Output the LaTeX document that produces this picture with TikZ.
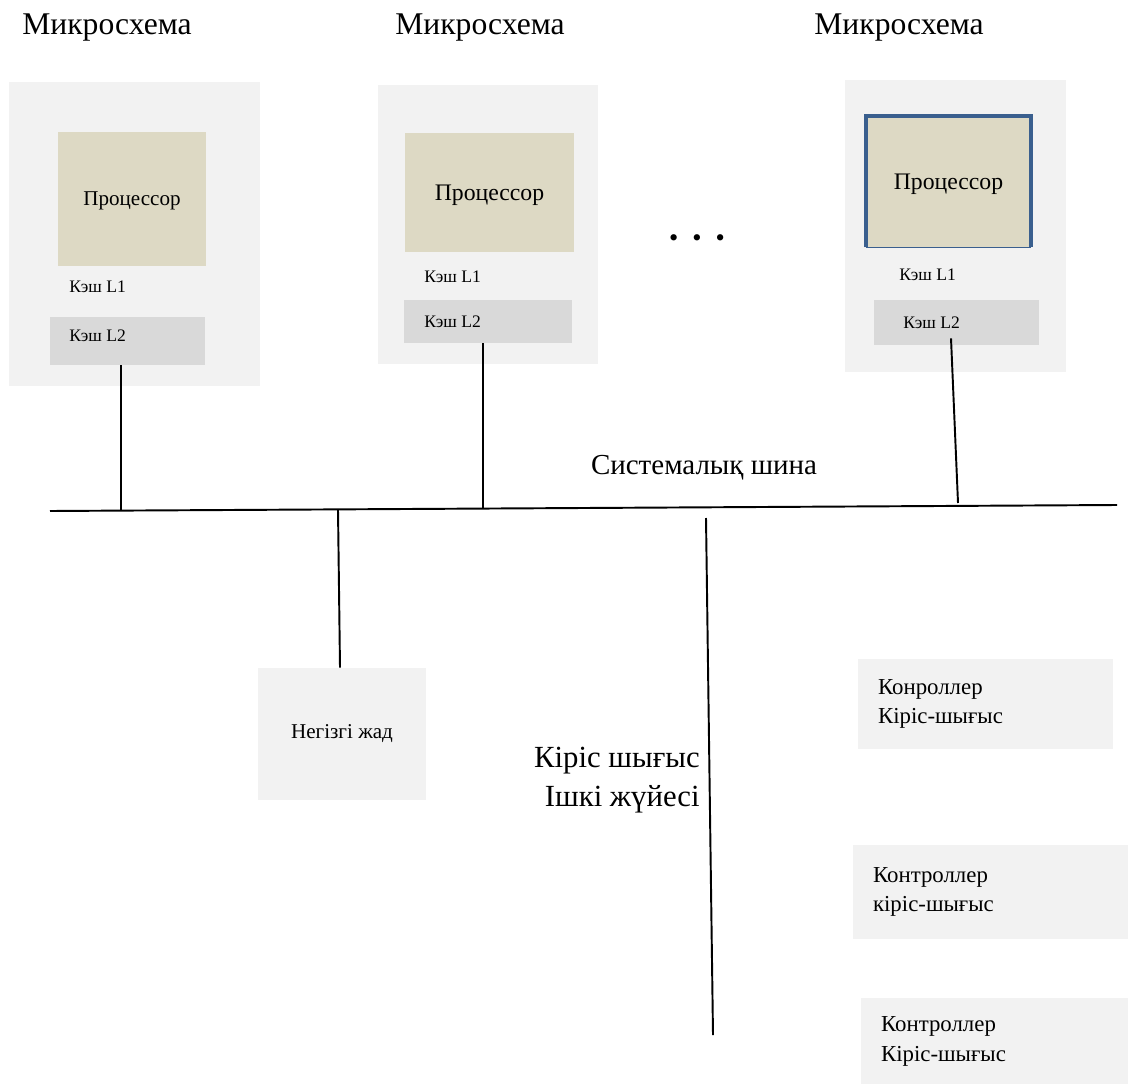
\documentclass[tikz,border=0pt]{standalone}
\usepackage{fontspec}
\setmainfont{Liberation Serif}
\usetikzlibrary{positioning}
\definecolor{chipgray}{HTML}{F2F2F2}
\definecolor{procbeige}{HTML}{DDD9C4}
\definecolor{cachegray}{HTML}{D9D9D9}
\definecolor{procblue}{HTML}{3A5F8E}

\begin{document}
\begin{tikzpicture}
  [x=0.02cm, y=-0.02cm,
   box/.style={rectangle, inner sep=0pt},
   chip/.style={box, fill=chipgray},
   proc/.style={box, fill=procbeige, text depth=0pt, font=\fontsize{13.5}{15}\selectfont},
   cache/.style={box, fill=cachegray},
   cachetext/.style={inner sep=0pt, anchor=west, font=\fontsize{10}{12}\selectfont},
   ctrl/.style={box, fill=chipgray, align=left, inner xsep=0.4cm, font=\fontsize{13}{17}\selectfont},
   heading/.style={inner sep=0pt, font=\fontsize{18}{20}\selectfont},
   bus/.style={line width=1.1pt}]
  \useasboundingbox (0,0) rectangle (1128,1084);

  % chips
  \node (head1) at (107,28) [heading] {Микросхема};
  \node (head2) at (480,28) [heading] {Микросхема};
  \node (head3) at (899,28) [heading] {Микросхема};

  \node (chip1) at (134.5,234) [chip, minimum width=5.02cm, minimum height=6.08cm] {};
  \node (proc1) at (132,199) [proc, minimum width=2.96cm, minimum height=2.68cm, font=\fontsize{12}{14}\selectfont] {Процессор};
  \node (l1a) at (69,287) [cachetext] {Кэш L1};
  \node (l2a) at (127.5,341) [cache, minimum width=3.1cm, minimum height=0.96cm] {};
  \node (l2atext) at (69,336) [cachetext] {Кэш L2};

  \node (chip2) at (488,224.5) [chip, minimum width=4.4cm, minimum height=5.58cm] {};
  \node (proc2) at (489.5,192.5) [proc, minimum width=3.38cm, minimum height=2.38cm] {Процессор};
  \node (l1b) at (424,277) [cachetext] {Кэш L1};
  \node (l2b) at (488,321.5) [cache, minimum width=3.36cm, minimum height=0.86cm] {};
  \node (l2btext) at (424,322) [cachetext] {Кэш L2};

  \node (chip3) at (955.5,226) [chip, minimum width=4.42cm, minimum height=5.84cm] {};
  \node (proc3) at (948.5,181.5) [proc, minimum width=3.3cm, minimum height=2.62cm] {Процессор};
  \draw [procblue, line width=2.3pt] (proc3.south west) -- (proc3.north west) -- (proc3.north east) -- (proc3.south east);
  \draw [procblue, line width=0.6pt] (proc3.south west) -- (proc3.south east);
  \node (l1c) at (899,275) [cachetext] {Кэш L1};
  \node (l2c) at (956.5,322.5) [cache, minimum width=3.3cm, minimum height=0.9cm] {};
  \node (l2ctext) at (903,323) [cachetext] {Кэш L2};

  \node (more) at (697,241) [inner sep=0pt, font=\fontsize{15}{15}\selectfont] {•\hspace{8pt}•\hspace{8pt}•};

  % bus
  \coordinate (busl) at (50,511);
  \coordinate (busr) at (1117,505);
  \coordinate (t1) at (121,511);
  \coordinate (t2) at (483,508);
  \coordinate (t3) at (958,503);
  \coordinate (t4) at (338,510);
  \draw [bus] (busl) -- (busr);
  \node (busname) at (704,468) [inner sep=0pt, font=\fontsize{16.5}{18}\selectfont] {Системалық шина};
  \draw [bus] (t1 |- l2a.south) -- (t1);
  \draw [bus] (t2 |- l2b.south) -- (t2);
  \draw [bus] (l2c.south) ++(-5.5,-7) -- (t3);

  % memory
  \node (mem) at (342,734) [chip, minimum width=3.36cm, minimum height=2.64cm, font=\fontsize{12}{14}\selectfont] {Негізгі жад};
  \draw [bus] (mem.north) ++(-2,0) -- (t4);

  % input-output
  \coordinate (iotop) at (706,518);
  \coordinate (iobot) at (713,1035);
  \draw [bus] (iotop) -- (iobot);
  \node (iosys) at (700,780) [inner sep=0pt, anchor=east, align=right, font=\fontsize{17.5}{22}\selectfont] {Кіріс шығыс\\Ішкі жүйесі};

  \node (ctrl1) at (985.5,704) [ctrl, text width=4.3cm, minimum height=1.8cm] {Конроллер\\Кіріс-шығыс};
  \node (ctrl2) at (990.5,892) [ctrl, text width=4.7cm, minimum height=1.88cm] {Контроллер\\кіріс-шығыс};
  \node (ctrl3) at (994.5,1041.5) [ctrl, text width=4.54cm, minimum height=1.74cm] {Контроллер\\Кіріс-шығыс};
\end{tikzpicture}
\end{document}
